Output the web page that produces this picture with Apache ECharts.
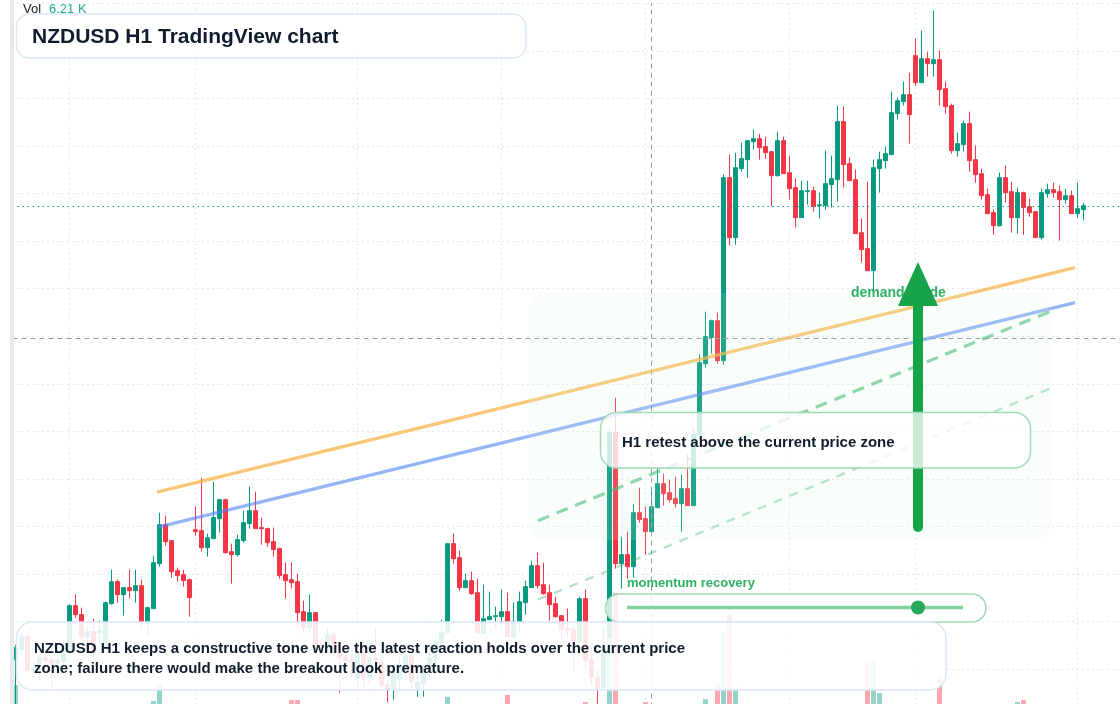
<!DOCTYPE html>
<html><head><meta charset="utf-8">
<script src="https://cdn.jsdelivr.net/npm/echarts@6/dist/echarts.min.js"></script>
<style>html,body{margin:0;padding:0;background:#fff}#c{width:1120px;height:704px}</style></head>
<body><div id="c"></div>
<script>
// NZDUSD H1, prices in points above the visible floor of the pane
const opens=[57,67,80,47,52,59,57,53,55,67,111,102,80,85,84,69,113,135,122,129,126,131,93,108,153,192,176,146,142,137,187,186,169,178,198,217,165,162,176,193,206,189,188,175,168,142,137,135,105,89,104,71,69,82,64,60,57,38,63,39,59,54,32,27,37,45,61,27,33,49,59,74,84,173,159,129,136,124,83,97,100,100,105,80,94,114,129,151,132,124,113,101,88,87,75,118,57,39,29,79,284,153,162,150,204,198,185,209,233,224,218,213,228,211,282,353,379,396,356,539,479,548,557,575,578,570,565,541,576,544,529,499,525,526,511,511,532,537,595,553,537,484,468,446,548,556,562,603,615,622,661,634,658,653,657,628,611,566,572,593,557,543,522,504,491,539,525,499,524,510,505,479,523,527,525,517,521,503,507];
const closes=[69,80,46,49,59,56,53,56,63,111,102,80,85,64,86,114,135,122,129,126,131,94,109,154,192,175,145,141,136,119,185,169,179,199,217,164,162,177,194,206,188,188,174,167,141,136,134,104,89,104,71,69,82,64,59,56,55,63,39,59,57,31,27,44,52,61,35,34,48,59,75,84,173,158,129,136,123,84,98,100,101,105,80,95,115,130,151,131,123,112,100,87,86,75,118,56,39,29,69,284,153,162,150,204,197,185,210,233,223,217,213,228,211,282,354,380,396,356,539,479,549,558,576,578,569,564,541,576,543,528,499,526,526,510,512,533,538,595,552,536,483,467,446,549,557,563,604,616,622,602,634,658,653,657,627,610,566,573,593,556,542,521,503,491,539,524,499,524,509,504,479,524,527,524,517,521,503,508,511];
const lows=[7,62,45,39,37,51,28,40,51,62,99,77,69,59,72,69,112,114,101,118,114,87,82,108,150,171,139,135,130,100,181,165,160,178,184,163,133,160,174,188,188,172,170,160,138,118,128,87,84,84,67,65,65,59,24,47,39,29,27,32,54,27,14,17,27,37,27,20,20,39,49,72,84,153,126,129,122,82,83,97,87,90,80,77,85,102,129,128,122,96,99,77,79,45,75,47,31,10,27,77,148,128,138,139,194,162,185,209,211,214,209,185,211,211,282,349,363,353,352,471,472,545,539,567,557,558,510,540,543,517,489,499,512,505,498,507,509,515,529,536,483,454,446,426,524,548,562,597,611,573,631,634,640,640,611,603,563,560,565,545,534,517,503,482,490,514,484,483,482,500,479,477,519,519,476,513,503,499,496];
const highs=[72,84,82,55,62,62,60,60,65,112,122,109,91,98,96,115,147,137,129,147,147,137,110,161,204,201,176,149,147,138,210,239,183,235,218,218,173,182,206,230,225,199,189,189,169,154,154,143,116,122,104,79,89,85,67,63,62,67,72,62,89,57,37,49,59,67,65,42,54,64,78,97,173,183,166,143,145,138,132,125,110,127,124,114,125,136,156,164,154,132,120,101,108,90,120,127,69,47,90,288,319,180,185,212,229,210,225,250,243,237,240,242,262,288,362,405,397,404,542,562,564,574,576,587,583,580,565,585,580,561,538,536,536,530,524,566,561,611,610,559,547,498,535,557,565,570,625,619,635,644,678,686,665,706,666,635,613,584,596,605,571,548,528,507,544,551,535,529,525,518,505,528,533,534,531,528,526,534,514];
const volumes=[13.95,8.2,7.4,6.9,7.7,8.1,6.6,7.2,8.4,9.1,8.8,7.9,7.1,7.5,6.8,8.9,9.2,8.3,7.6,7.9,8.2,9.4,8.7,11.96,14.07,9.6,9.3,8.1,7.4,8.6,9.5,9.8,8.4,9.1,9.4,9.7,8.9,8.2,8.8,9.3,9.5,7.8,8.6,8.3,9.2,8.9,12.07,12.07,9.4,9.1,8.7,6.8,7.7,8.1,7.3,6.9,7.2,8.5,8.2,7.8,6.4,8.6,7.5,8.3,7.9,8.1,8.7,7.4,8.2,8.6,9.1,8.8,12.48,9.7,9.5,8.2,8.4,9.6,8.9,7.6,6.8,7.1,12.7,8.2,8.8,9.2,9.5,9.1,8.3,8.7,8.9,8.1,7.2,8.3,9.4,11.82,8.7,8.9,9.3,19.6,25.44,9.4,8.8,9.7,9.1,11.82,9.2,8.9,8.3,7.7,7.9,8.6,9.1,9.5,9.8,12.19,9.2,14.07,20.6,22.8,13.7,9.4,8.8,7.2,7.9,7.3,9.1,9.4,8.7,9.5,9.8,8.2,7.1,8.4,7.3,9.2,8.6,9.9,9.6,8.4,9.7,9.5,16.73,16.86,12.94,8.1,9.6,8.4,8.2,9.1,9.7,9.4,8.2,7.8,14.86,9.6,9.1,9.8,8.3,8.9,9.5,9.2,8.7,8.4,8.1,9.3,9.1,11.82,12.07,9.2,7.6,8.8,9.5,7.4,7.1,8.6,7.2,8.9,6.5,6.21];
const categoryCount=185;
const verticalGridBars=[9,30,57,81,105,129,150,177];
const orangeTrend=[[23.58,224.5],[176.58,449]];
const blueTrend=[[23.75,189.5],[176.58,414]];
const greenDashTrend=[[87.08,196],[172.4,405]];
const paleDashTrend=[[87.08,117],[172.4,328]];
const lastPrice=510.3;
const crossPrice=378.5;
const crossBar=106;
const categories=Array.from({length:categoryCount},(_,i)=>'H'+i);

const UP='#089981',DOWN='#f23645';
const rows=opens.map((o,i)=>[o,closes[i],lows[i],highs[i]]);
const volData=volumes.map((v,i)=>({value:v,itemStyle:{color:closes[i]>=opens[i]?UP:DOWN,opacity:.43}}));
const GRIDC='#cfd0d4';

function line(name,data,color,width,type,z){
  return {name,type:'line',xAxisIndex:1,yAxisIndex:0,data,symbol:'none',silent:true,z:z||5,
    lineStyle:{color,width,type:type||'solid',cap:'butt'}};
}
const panelStroke='#dde8fb', greenStroke='#9fdcb4';
const chart=echarts.init(document.getElementById('c'),null,{renderer:'canvas'});
chart.setOption({
  animation:false,
  backgroundColor:'#ffffff',
  grid:{left:12.5,top:3.4,width:6*categoryCount,height:713.25,containLabel:false,outerBoundsMode:'none'},
  xAxis:[
    {type:'category',data:categories,axisLine:{show:false},axisTick:{show:false},axisLabel:{show:false},
     splitLine:{show:true,alignWithLabel:true,interval:(i)=>verticalGridBars.includes(i),
       lineStyle:{color:GRIDC,width:1,type:[1,4]}}},
    {type:'value',min:-0.5,max:categoryCount-0.5,show:false,splitLine:{show:false}}
  ],
  yAxis:[
    {type:'value',min:0,max:713.25,interval:47.55,axisLine:{show:false},axisTick:{show:false},axisLabel:{show:false},
     splitLine:{show:true,lineStyle:{color:GRIDC,width:1,type:[1,4]}}},
    {type:'value',min:10,max:99.16,show:false,splitLine:{show:false}}
  ],
  series:[
    {name:'Vol',type:'bar',xAxisIndex:0,yAxisIndex:1,data:volData,barWidth:5,silent:true,z:1},
    {name:'NZDUSD',type:'candlestick',xAxisIndex:0,yAxisIndex:0,data:rows,barWidth:5,silent:true,z:3,
     itemStyle:{color:UP,color0:DOWN,borderColor:UP,borderColor0:DOWN,borderWidth:1},
     markLine:{silent:true,symbol:'none',label:{show:false},animation:false,data:[
       {yAxis:lastPrice,lineStyle:{color:'#0aa88d',type:[1.5,3.5],width:1}},
       {yAxis:crossPrice,lineStyle:{color:'#9598a1',type:[5,4],width:1}},
       {xAxis:crossBar,lineStyle:{color:'#9598a1',type:[5,4],width:1}}
     ]}},
    line('Upper trend',orangeTrend,'rgba(246,178,66,0.72)',3.2),
    line('Lower trend',blueTrend,'rgba(82,131,240,0.6)',3.2),
    line('Support dash',greenDashTrend,'rgba(60,180,110,0.62)',3.2,[12,8]),
    line('Lower dash',paleDashTrend,'rgba(60,180,110,0.38)',2.4,[9,8])
  ],
  graphic:[
    {type:'rect',z:40,silent:true,shape:{x:10,y:0,width:4,height:704},style:{fill:'#e9e9e9'}},
    {type:'rect',z:40,silent:true,shape:{x:0,y:0,width:10,height:704},style:{fill:'#ffffff'}},
    {type:'rect',z:50,silent:true,shape:{x:528,y:293,width:524,height:247,r:18},style:{fill:'rgba(209,247,224,0.13)'}},
    {type:'text',z:60,silent:true,style:{text:'demand guide',x:851,y:293,font:'bold 14px "Liberation Sans",Arial,sans-serif',fill:'#2fb163',textVerticalAlign:'middle'}},
    {type:'line',z:61,silent:true,shape:{x1:918,y1:527,x2:918,y2:300},style:{stroke:'#16a34a',lineWidth:10,lineCap:'round'}},
    {type:'polygon',z:62,silent:true,shape:{points:[[918,262],[938,306],[898,306]]},style:{fill:'#16a34a'}},
    {type:'rect',z:70,silent:true,shape:{x:600.5,y:412.5,width:430,height:55.5,r:16},style:{fill:'rgba(255,255,255,0.78)',stroke:greenStroke,lineWidth:1.5}},
    {type:'text',z:71,silent:true,style:{text:'H1 retest above the current price zone',x:622,y:443,font:'bold 15px "Liberation Sans",Arial,sans-serif',fill:'#111c2e',textVerticalAlign:'middle'}},
    {type:'text',z:71,silent:true,style:{text:'momentum recovery',x:627,y:583,font:'bold 13px "Liberation Sans",Arial,sans-serif',fill:'#2fb163',textVerticalAlign:'middle'}},
    {type:'rect',z:70,silent:true,shape:{x:605.5,y:594,width:380.5,height:28,r:14},style:{fill:'rgba(255,255,255,0.8)',stroke:greenStroke,lineWidth:1.5}},
    {type:'line',z:71,silent:true,shape:{x1:627,y1:607.5,x2:963,y2:607.5},style:{stroke:'#86d09f',lineWidth:3.5}},
    {type:'circle',z:72,silent:true,shape:{cx:918,cy:607.5,r:7},style:{fill:'#27a85a'}},
    {type:'rect',z:80,silent:true,shape:{x:16.5,y:622,width:929.5,height:68,r:16},style:{fill:'rgba(255,255,255,0.88)',stroke:panelStroke,lineWidth:1.5}},
    {type:'text',z:81,silent:true,style:{text:'NZDUSD H1 keeps a constructive tone while the latest reaction holds over the current price',x:34,y:648.5,font:'bold 15px "Liberation Sans",Arial,sans-serif',fill:'#111c2e',textVerticalAlign:'middle'}},
    {type:'text',z:81,silent:true,style:{text:'zone; failure there would make the breakout look premature.',x:34,y:668.5,font:'bold 15px "Liberation Sans",Arial,sans-serif',fill:'#111c2e',textVerticalAlign:'middle'}},
    {type:'text',z:90,silent:true,style:{text:'Vol',x:23,y:9.5,font:'13px "Liberation Sans",Arial,sans-serif',fill:'#131722',textVerticalAlign:'middle'}},
    {type:'text',z:90,silent:true,style:{text:'6.21 K',x:49,y:9.5,font:'13px "Liberation Sans",Arial,sans-serif',fill:'#22ab94',textVerticalAlign:'middle'}},
    {type:'rect',z:91,silent:true,shape:{x:16.5,y:14,width:509.5,height:44,r:13},style:{fill:'rgba(255,255,255,0.92)',stroke:panelStroke,lineWidth:1.5}},
    {type:'text',z:92,silent:true,style:{text:'NZDUSD H1 TradingView chart',x:32,y:37.5,font:'bold 21px "Liberation Sans",Arial,sans-serif',fill:'#111c2e',textVerticalAlign:'middle'}}
  ]
});
</script></body></html>
